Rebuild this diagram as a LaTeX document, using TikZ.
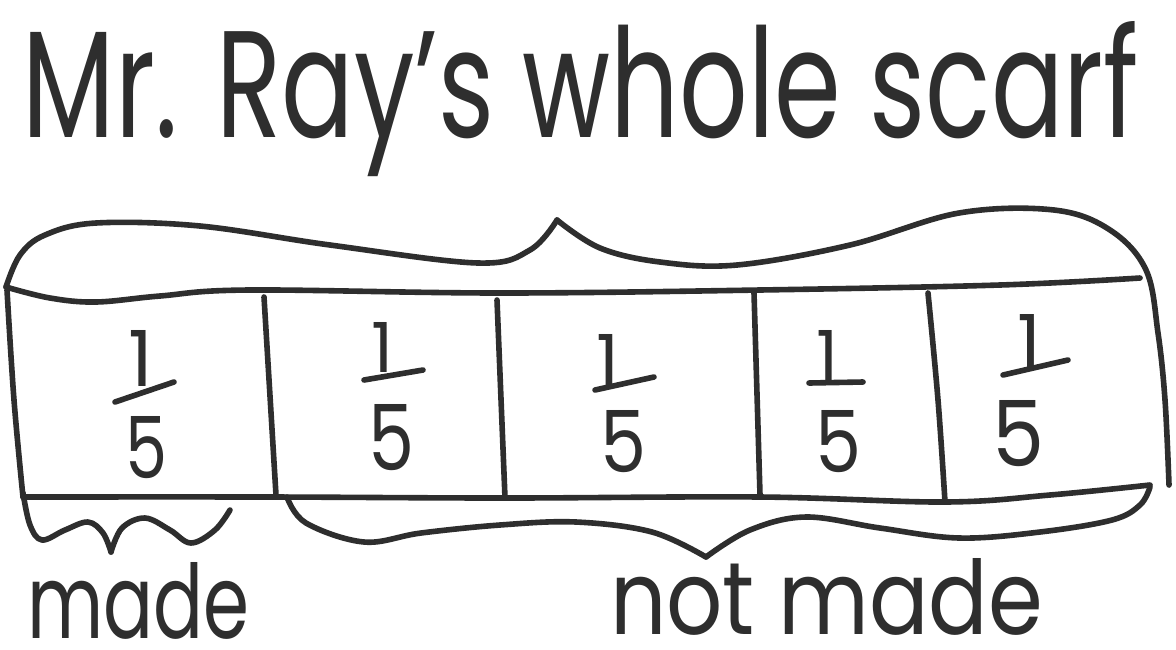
\documentclass[tikz,border=0pt]{standalone}
\usepackage{graphicx}
\usepackage{fontspec}
\setmainfont{Poppins}
\definecolor{inkc}{HTML}{2E2E2E}
\begin{document}
\begin{tikzpicture}[x=0.5pt,y=-0.5pt,
  ink/.style={draw=inkc,line width=2.8pt,line cap=round,line join=round},
  lbl/.style={inner sep=0pt,outer sep=0pt,text=inkc,anchor=base west},
  onedig/.style={inner sep=0pt,outer sep=0pt,text=inkc,anchor=south},
  fivedig/.style={inner sep=0pt,outer sep=0pt,text=inkc,anchor=center}]
\fill[white] (0,0) rectangle (1176,649);
\useasboundingbox (0,0) rectangle (1176,649);

% title
\node[lbl] (title) at (23,137) {\resizebox{558pt}{58pt}{Mr. Ray's whole scarf}};

% top brace (left half, right half merging into right side)
\draw[ink] plot[smooth,tension=0.6] coordinates {(6,287) (20,255) (45,235) (96,223) (200,226) (330,245) (478,263) (530,250) (557,220)};
\draw[ink] plot[smooth,tension=0.6] coordinates {(557,220) (600,248) (660,262) (737,265) (850,245) (959,213) (1054,210) (1110,230) (1146,270) (1158,333) (1165,400) (1169,485)};

% rectangle
\draw[ink] plot[smooth,tension=0.6] coordinates {(6,287) (50,298) (96,302) (160,296) (249,290) (500,293) (760,290) (1000,285) (1140,278)};
\draw[ink] plot[smooth,tension=0.6] coordinates {(7,290) (14,400) (23,497)};
\draw[ink] plot[smooth,tension=0.6] coordinates {(23,497) (270,497) (505,498) (760,497) (945,502) (1050,495) (1150,485)};
\draw[ink] (264,297) -- (276,495);
\draw[ink] (497,300) -- (505,498);
\draw[ink] (754,293) -- (760,495);
\draw[ink] plot[smooth,tension=0.6] coordinates {(928,293) (938,400) (945,502)};

% fractions
\node[onedig] (one1) at (141,386) {\resizebox{!}{28pt}{1}};
\draw[ink] (115,402) -- (174,382);
\node[fivedig] (five1) at (147,448) {\resizebox{21pt}{31pt}{5}};

\node[onedig] (one2) at (383,372) {\resizebox{!}{25pt}{1}};
\draw[ink] (364,380) -- (423,370);
\node[fivedig] (five2) at (391,438) {\resizebox{23pt}{33pt}{5}};

\node[onedig] (one3) at (608,386) {\resizebox{!}{26pt}{1}};
\draw[ink] (595,390) -- (654,377);
\node[fivedig] (five3) at (623,442) {\resizebox{23pt}{31pt}{5}};

\node[onedig] (one4) at (828,380) {\resizebox{!}{25pt}{1}};
\draw[ink] (809,383) -- (863,382);
\node[fivedig] (five4) at (838,442) {\resizebox{23pt}{31pt}{5}};

\node[onedig] (one5) at (1029,368) {\resizebox{!}{27pt}{1}};
\draw[ink] (1003,375) -- (1068,360);
\node[fivedig] (five5) at (1018,434) {\resizebox{26pt}{33pt}{5}};

% bottom braces
\draw[ink] plot[smooth,tension=0.6] coordinates {(23,493) (30,525) (42,540) (65,530) (88,522) (103,533) (111,552)};
\draw[ink] plot[smooth,tension=0.6] coordinates {(111,552) (122,528) (145,518) (170,530) (191,543) (215,530) (230,510)};
\draw[ink] plot[smooth,tension=0.6] coordinates {(287,497) (306,523) (364,542) (421,533) (500,525) (576,522) (652,532) (706,557)};
\draw[ink] plot[smooth,tension=0.6] coordinates {(706,557) (750,530) (806,517) (880,528) (959,538) (1040,532) (1112,520) (1140,505) (1150,487)};

% labels
\node[lbl] (made) at (27,638) {\resizebox{111pt}{38pt}{made}};
\node[lbl] (notmade) at (610,634) {\resizebox{216.5pt}{38pt}{not made}};
\end{tikzpicture}
\end{document}
